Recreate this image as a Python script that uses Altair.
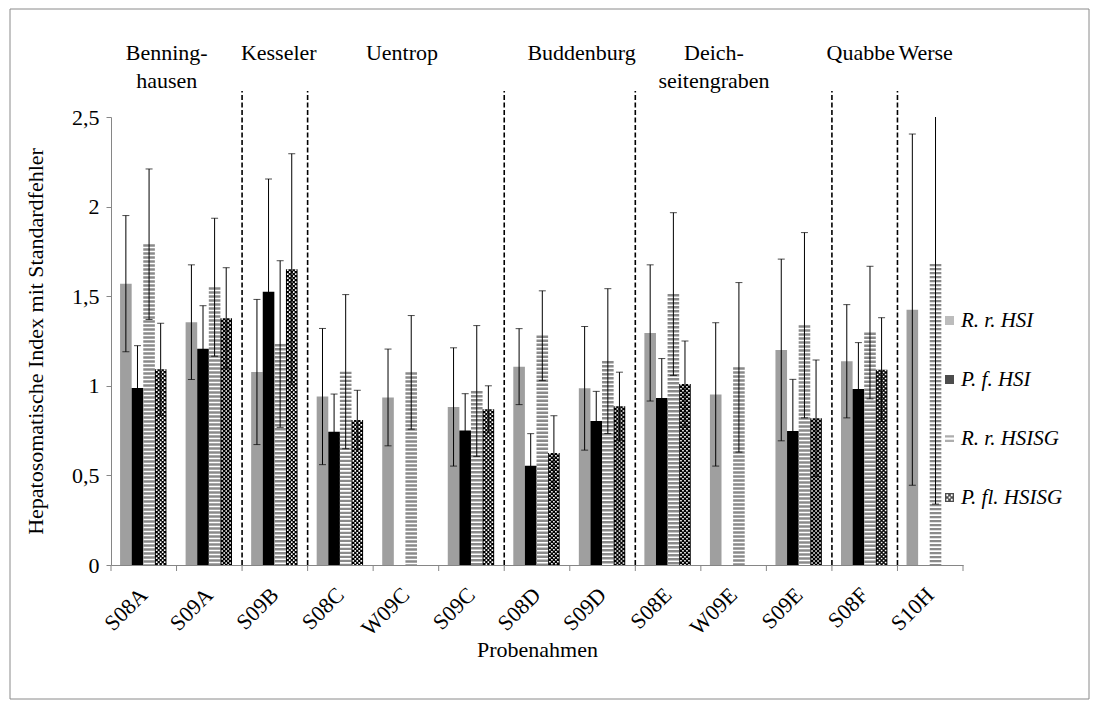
import altair as alt
import pandas as pd

categories = ["S08A", "S09A", "S09B", "S08C", "W09C", "S09C", "S08D",
              "S09D", "S08E", "W09E", "S09E", "S08F", "S10H"]
series_names = ["R. r. HSI", "P. f. HSI", "R. r. HSISG", "P. fl. HSISG"]

rr_hsi = [1.57, 1.355, 1.077, 0.94, 0.935, 0.882, 1.107, 0.986, 1.295, 0.952, 1.20, 1.137, 1.425]
rr_hsi_se = [0.38, 0.32, 0.405, 0.38, 0.27, 0.33, 0.212, 0.345, 0.38, 0.40, 0.507, 0.316, 0.98]
pf_hsi = [0.988, 1.207, 1.525, 0.744, None, 0.75, 0.554, 0.804, 0.932, None, 0.748, 0.982, None]
pf_hsi_se = [0.236, 0.24, 0.629, 0.21, None, 0.206, 0.179, 0.165, 0.22, None, 0.288, 0.259, None]
rr_hsisg = [1.79, 1.55, 1.233, 1.079, 1.075, 0.971, 1.28, 1.138, 1.512, 1.103, 1.338, 1.297, 1.68]
rr_hsisg_se = [0.42, 0.385, 0.465, 0.43, 0.317, 0.365, 0.25, 0.404, 0.454, 0.473, 0.517, 0.37, 1.34]
pfl_hsisg = [1.092, 1.377, 1.65, 0.809, None, 0.869, 0.625, 0.886, 1.01, None, 0.819, 1.09, None]
pfl_hsisg_se = [0.257, 0.282, 0.645, 0.166, None, 0.131, 0.208, 0.19, 0.24, None, 0.325, 0.29, None]

separators_before = ["S09B", "S08C", "S08D", "S08E", "S08F", "S10H"]
group_labels = ["Benning-\nhausen", "Kesseler", "Uentrop", "Buddenburg",
                "Deich-\nseitengraben", "Quabbe", "Werse"]
group_anchor = ["S08A", "S09B", "W09C", "S09D", "W09E", "S08F", "S10H"]

rows = []
for s, vals, errs in zip(series_names,
                         [rr_hsi, pf_hsi, rr_hsisg, pfl_hsisg],
                         [rr_hsi_se, pf_hsi_se, rr_hsisg_se, pfl_hsisg_se]):
    for c, v, e in zip(categories, vals, errs):
        if v is None:
            continue
        rows.append({"cat": c, "series": s, "value": v,
                     "lo": max(v - e, 0), "hi": v + e})
df = pd.DataFrame(rows)

# ---- layout / style ----
W, H = 852, 448
AX = "#868686"
GRAY = "#9f9f9f"
STRIPE = "#8a8a8a"
BW = 11.6
OFFS = [-17.9, -6.3, 5.3, 16.9]
group_band = [0.85, 0.56, 0.44, 0.18, 0.2, 0.44, 0.43]
FONT = "Liberation Serif"
FS = 22
LFS = 21

xs = alt.Scale(domain=categories, paddingInner=0, paddingOuter=0)
ys = alt.Scale(domain=[0, 2.5], nice=False, zero=True)
xaxis = alt.Axis(title="Probenahmen", labelAngle=-45, labelAlign="right",
                 labelBaseline="middle", ticks=False, domainColor=AX,
                 labelPadding=26, titlePadding=0)
yaxis = alt.Axis(title="Hepatosomatische Index mit Standardfehler",
                 values=[0, 0.5, 1, 1.5, 2, 2.5],
                 labelExpr="replace(format(datum.value, '.1~f'), '.', ',')",
                 domainColor=AX, tickColor=AX, tickSize=5, grid=False,
                 labelPadding=7, titlePadding=24)


def X(**kw):
    return alt.X("cat:N", scale=xs, axis=xaxis, **kw)


def Y(field="value"):
    return alt.Y(f"{field}:Q", scale=ys, axis=yaxis)


base = alt.Chart(df)
layers = []

# frame around the whole figure
layers.append(
    alt.Chart(alt.Data(values=[{"k": 1}])).mark_rect(
        fill="transparent", stroke="#8a8a8a", strokeWidth=1
    ).encode(x=alt.value(-101), x2=alt.value(978), y=alt.value(-108), y2=alt.value(582))
)


def sel(i):
    return base.transform_filter(alt.datum.series == series_names[i])


# R. r. HSI: gray bars
layers.append(sel(0).mark_bar(width=BW, xOffset=OFFS[0], color=GRAY).encode(x=X(), y=Y()))
# P. f. HSI: black bars
layers.append(sel(1).mark_bar(width=BW, xOffset=OFFS[1], color="black").encode(x=X(), y=Y()))
# R. r. HSISG: horizontal stripes
layers.append(sel(2).mark_rule(strokeWidth=BW, xOffset=OFFS[2], color=STRIPE,
                               strokeDash=[2.4, 1.6], strokeCap="butt")
              .encode(x=X(), y=Y(), y2=alt.datum(0)))
# P. fl. HSISG: black with white dots
layers.append(sel(3).mark_bar(width=BW, xOffset=OFFS[3], color="black").encode(x=X(), y=Y()))
for dx, doff in [(-4, 0), (0, 0), (4, 0), (-2, 2), (2, 2)]:
    layers.append(sel(3).mark_rule(strokeWidth=1.6, xOffset=OFFS[3] + dx, color="white",
                                   strokeDash=[1.6, 2.4], strokeDashOffset=doff,
                                   strokeCap="butt")
                  .encode(x=X(), y=Y(), y2=alt.datum(0)))

# error bars
for i in range(4):
    layers.append(sel(i).mark_rule(xOffset=OFFS[i], color="black", strokeWidth=1, clip=True)
                  .encode(x=X(), y=Y("lo"), y2="hi:Q"))
    layers.append(sel(i).mark_tick(xOffset=OFFS[i], color="black", thickness=1, size=7,
                                   orient="horizontal", clip=True)
                  .encode(x=X(), y=Y("hi")))
    layers.append(sel(i).mark_tick(xOffset=OFFS[i], color="black", thickness=1, size=7,
                                   orient="horizontal", clip=True)
                  .encode(x=X(), y=Y("lo")))

# category boundary ticks on the x axis
cat_df = pd.DataFrame({"cat": categories})
layers.append(alt.Chart(cat_df).mark_rule(color=AX).encode(
    x=X(bandPosition=0), y=alt.value(H), y2=alt.value(H + 6)))
layers.append(alt.Chart(pd.DataFrame({"cat": [categories[-1]]})).mark_rule(color=AX).encode(
    x=X(bandPosition=1), y=alt.value(H), y2=alt.value(H + 6)))

# dashed separators between sites
layers.append(alt.Chart(pd.DataFrame({"cat": separators_before})).mark_rule(
    color="black", strokeWidth=1.6, strokeDash=[5, 2.5]).encode(
    x=X(bandPosition=0), y=alt.value(H), y2=alt.value(-26)))

# site labels
for lab, anc, b in zip(group_labels, group_anchor, group_band):
    layers.append(alt.Chart(pd.DataFrame({"cat": [anc], "label": [lab]})).mark_text(
        lineBreak="\n", lineHeight=28, baseline="top", align="center",
        fontSize=FS, font=FONT, color="black").encode(
        x=X(bandPosition=b), y=alt.value(-74), text="label:N"))

# legend (scale-driven, no visible marks)
path_eq = "M-1,-0.75H1V-0.25H-1Z M-1,0.25H1V0.75H-1Z"
path_check = ("M-1,-1H1V1H-1Z "
              "M-0.7,-0.7V-0.3H-0.3V-0.7Z M0.3,-0.7V-0.3H0.7V-0.7Z "
              "M-0.2,-0.2V0.2H0.2V-0.2Z "
              "M-0.7,0.3V0.7H-0.3V0.3Z M0.3,0.3V0.7H0.7V0.3Z")
leg = alt.Legend(title=None, orient="none", legendX=828, legendY=193,
                 labelFontStyle="italic", labelFontSize=LFS, labelFont=FONT,
                 symbolSize=81, rowPadding=37, labelOffset=1,
                 symbolStrokeWidth=0, padding=0, labelColor="black")
layers.append(base.mark_point(filled=True).encode(
    x=X(), y=Y(),
    color=alt.Color("series:N", scale=alt.Scale(domain=series_names,
                                                range=[GRAY, "black", STRIPE, "black"]),
                    legend=leg),
    shape=alt.Shape("series:N", scale=alt.Scale(domain=series_names,
                                                range=["square", "square", path_eq, path_check]),
                    legend=leg),
).transform_filter("false"))

chart = alt.layer(*layers).properties(
    width=W, height=H,
    padding={"left": 103, "top": 109, "right": 127, "bottom": 136},
    autosize=alt.AutoSizeParams(type="none"),
).configure(font=FONT).configure_view(strokeWidth=0).configure_axis(
    labelFont=FONT, titleFont=FONT, labelFontSize=FS, titleFontSize=FS,
    titleFontWeight="normal", labelColor="black", titleColor="black"
)

chart.save("out.html", embed_options={"renderer": "svg", "actions": False})
